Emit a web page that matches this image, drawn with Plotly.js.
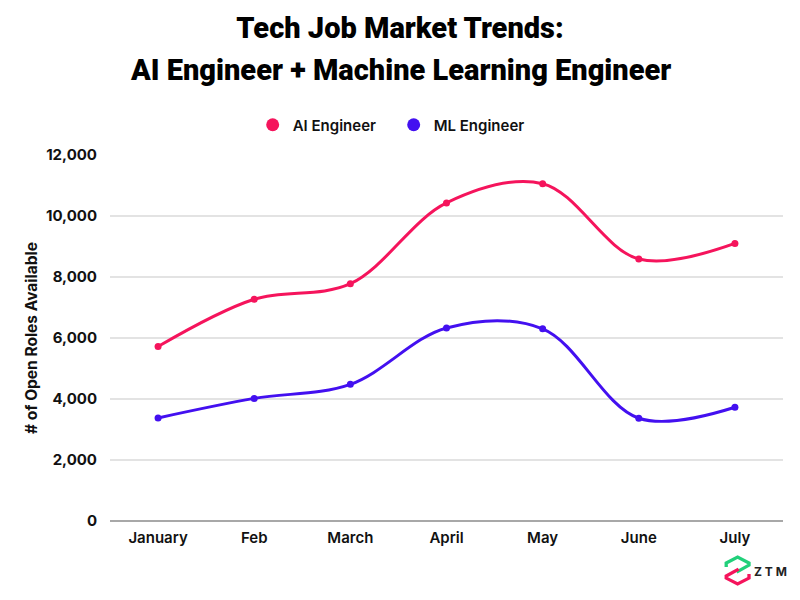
<!DOCTYPE html>
<html>
<head>
<meta charset="utf-8">
<script src="https://cdn.plot.ly/plotly-3.0.1.min.js"></script>
<style>html,body{margin:0;padding:0;background:#fff;}#chart{width:800px;height:600px;}</style>
</head>
<body>
<div id="chart"></div>
<script>
const months = ["January", "Feb", "March", "April", "May", "June", "July"];
const aiEngineer = [5720, 7270, 7780, 10430, 11060, 8590, 9100];
const mlEngineer = [3380, 4020, 4480, 6330, 6300, 3370, 3730];
const seriesNames = ["AI Engineer", "ML Engineer"];
const seriesColors = ["#F5145C", "#4310F0"];
const titleLines = ["Tech Job Market Trends:", "AI Engineer + Machine Learning Engineer"];

const logoSvg = '<svg xmlns="http://www.w3.org/2000/svg" viewBox="0 0 28 32">' +
  '<path d="M3 12 L3 8 L14 2 L25 8 L25 10 L13 17" fill="none" stroke="#21D07A" stroke-width="3.2" stroke-linejoin="miter"/>' +
  '<path d="M25 19 L25 23 L14 29 L3 23 L3 21 L15 14" fill="none" stroke="#F5145C" stroke-width="3.2" stroke-linejoin="miter"/>' +
  '</svg>';
const logoUri = 'data:image/svg+xml;base64,' + btoa(logoSvg);

const lineTraces = [aiEngineer, mlEngineer].map((vals, i) => ({
  type: 'scatter',
  mode: 'lines+markers',
  x: months,
  y: vals,
  name: seriesNames[i],
  showlegend: false,
  line: {color: seriesColors[i], width: 3, shape: 'spline', smoothing: 1},
  marker: {color: seriesColors[i], size: 7}
}));

const legendTraces = seriesNames.map((n, i) => ({
  type: 'scatter',
  mode: 'markers',
  x: [null],
  y: [null],
  name: n,
  showlegend: true,
  marker: {color: seriesColors[i], size: 13}
}));

const titleFont = {family: 'Roboto, sans-serif', size: 29, weight: 900, color: '#000000'};

const layout = {
  width: 800,
  height: 600,
  paper_bgcolor: '#ffffff',
  plot_bgcolor: '#ffffff',
  margin: {l: 110, r: 17, t: 155, b: 79, autoexpand: false},
  font: {family: 'Inter, Roboto, sans-serif', color: '#1a1a1a'},
  title: {
    text: titleLines[0],
    font: titleFont,
    x: 0.5,
    xanchor: 'center',
    xref: 'container',
    y: 0.953,
    yanchor: 'middle',
    yref: 'container'
  },
  showlegend: true,
  legend: {
    orientation: 'h',
    x: 0.212,
    xanchor: 'left',
    y: 1.082,
    yanchor: 'middle',
    entrywidth: 96,
    font: {family: 'Inter, sans-serif', size: 15, weight: 600, color: '#111'},
    itemsizing: 'trace'
  },
  xaxis: {
    type: 'category',
    range: [-0.5, 6.5],
    showgrid: false,
    showline: false,
    zeroline: false,
    ticks: '',
    tickangle: 0,
    automargin: false,
    ticklabelstandoff: 6,
    tickfont: {family: 'Inter, sans-serif', size: 15, weight: 600, color: '#111'},
    fixedrange: true
  },
  yaxis: {
    range: [0, 12000],
    dtick: 2000,
    tickformat: ',d',
    showgrid: true,
    gridcolor: '#e3e3e3',
    gridwidth: 1.5,
    zeroline: true,
    zerolinecolor: '#a8a8a8',
    zerolinewidth: 1.5,
    ticks: '',
    automargin: false,
    ticklabelstandoff: 12,
    tickfont: {family: 'Inter, sans-serif', size: 15, weight: 700, color: '#111'},
    title: {
      text: '# of Open Roles Available',
      font: {family: 'Inter, sans-serif', size: 15.5, weight: 700, color: '#111'},
      standoff: 4
    },
    fixedrange: true
  },
  annotations: [{
    text: titleLines[1],
    xref: 'paper', yref: 'paper',
    x: 0.431, y: 1.232,
    xanchor: 'center', yanchor: 'middle',
    showarrow: false,
    font: titleFont
  }, {
    text: 'Z T M',
    xref: 'paper', yref: 'paper',
    x: 0.981, y: -0.139,
    xanchor: 'center', yanchor: 'middle',
    showarrow: false,
    font: {family: 'Inter, sans-serif', size: 12, weight: 700, color: '#222'}
  }],
  images: [{
    source: logoUri,
    xref: 'paper', yref: 'paper',
    x: 0.911, y: -0.093,
    sizex: 0.0431, sizey: 0.0874,
    xanchor: 'left', yanchor: 'top',
    sizing: 'stretch',
    layer: 'above'
  }]
};

Plotly.newPlot('chart', lineTraces.concat(legendTraces), layout, {displayModeBar: false, staticPlot: true});
</script>
</body>
</html>
